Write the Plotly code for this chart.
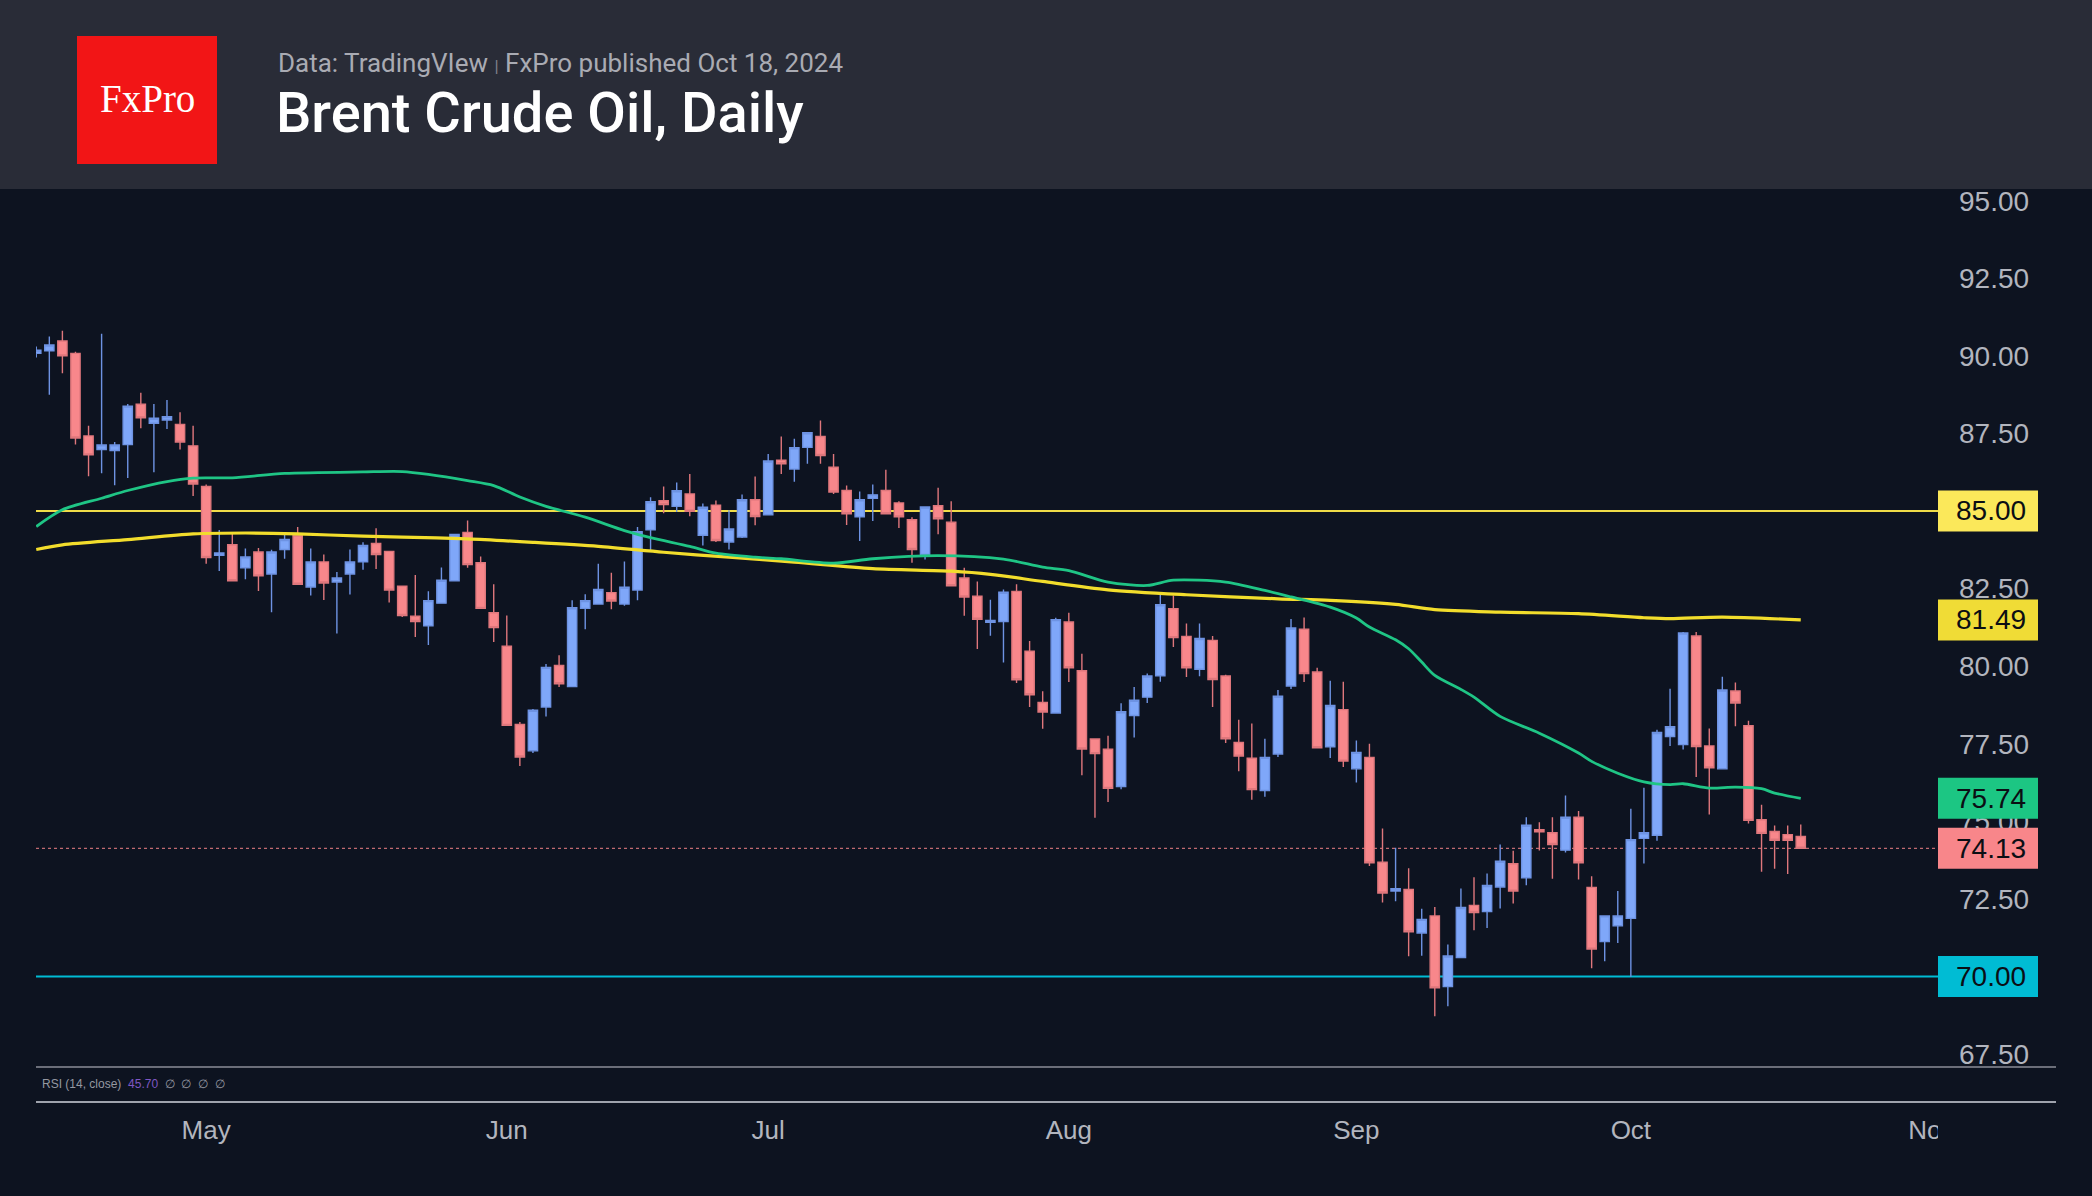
import pandas as pd
import plotly.graph_objects as go

# ---------------- data ----------------
dates = pd.bdate_range("2024-04-12", "2024-10-18")

opens = [90.08, 90.16, 90.48, 90.08, 87.42, 86.98, 86.95, 87.14, 88.44, 87.83,
         87.93, 87.79, 87.10, 85.79, 83.57, 83.91, 83.17, 83.68, 82.97, 83.76,
         84.20, 82.55, 83.36, 82.71, 82.97, 83.36, 83.95, 83.70, 82.58, 81.61,
         81.30, 82.03, 82.75, 84.31, 83.33, 81.72, 80.64, 78.12, 77.27, 78.68,
         80.02, 79.34, 81.86, 82.00, 82.37, 82.00, 82.45, 84.39, 85.33, 85.15,
         85.55, 84.22, 85.19, 84.00, 84.16, 85.36, 84.88, 86.64, 86.35, 87.05,
         87.40, 86.41, 85.66, 84.81, 85.41, 85.66, 85.26, 84.72, 83.60, 85.17,
         84.64, 82.84, 82.25, 81.41, 81.44, 82.41, 80.48, 78.83, 78.49, 81.42,
         79.85, 77.65, 77.32, 76.12, 78.41, 79.00, 79.69, 81.85, 80.96, 79.90,
         80.83, 79.68, 77.54, 77.03, 75.99, 77.17, 79.36, 81.19, 79.81, 77.40,
         78.60, 76.69, 77.06, 73.68, 72.75, 72.80, 71.40, 71.95, 69.67, 70.61,
         72.29, 72.09, 72.88, 73.63, 73.18, 74.73, 74.63, 74.07, 75.13, 72.87,
         71.12, 71.63, 71.87, 74.45, 74.55, 77.73, 77.47, 80.97, 77.43, 76.69,
         79.20, 78.08, 75.05, 74.67, 74.57, 74.51]
highs = [90.30, 90.62, 90.81, 90.13, 87.75, 90.71, 87.22, 88.45, 88.81, 88.45,
         88.58, 88.18, 87.75, 85.85, 84.39, 84.32, 83.79, 83.81, 83.75, 84.26,
         84.48, 83.79, 83.60, 83.03, 83.76, 83.99, 84.44, 83.70, 82.58, 82.94,
         82.41, 83.18, 84.27, 84.69, 83.53, 82.64, 81.63, 78.20, 78.62, 80.07,
         80.35, 82.12, 82.32, 83.30, 83.01, 83.37, 84.48, 85.44, 85.79, 85.92,
         86.19, 85.24, 85.34, 85.02, 85.53, 86.11, 86.84, 87.40, 87.33, 87.52,
         87.92, 86.84, 85.82, 85.63, 85.85, 86.33, 85.31, 84.80, 85.13, 85.75,
         85.31, 83.17, 82.73, 82.14, 82.47, 82.64, 80.81, 79.19, 81.56, 81.72,
         80.40, 77.65, 77.76, 78.80, 79.33, 79.76, 82.33, 82.28, 81.37, 81.37,
         80.97, 79.72, 78.27, 78.15, 77.66, 79.23, 81.52, 81.57, 79.95, 79.53,
         79.50, 77.60, 77.50, 74.77, 74.15, 73.49, 72.18, 72.24, 71.03, 72.83,
         73.20, 73.32, 74.25, 74.05, 75.13, 74.97, 75.13, 75.83, 75.33, 73.23,
         71.95, 72.75, 75.40, 76.08, 77.95, 79.27, 81.10, 81.10, 77.99, 79.66,
         79.47, 78.24, 75.53, 74.86, 74.86, 74.90]
lows = [89.95, 88.75, 89.44, 87.14, 86.12, 86.22, 85.83, 86.06, 87.67, 86.25,
        87.64, 86.98, 85.48, 83.30, 83.07, 82.74, 82.80, 82.42, 81.74, 83.46,
        82.63, 82.28, 82.13, 81.05, 82.31, 83.11, 83.13, 82.05, 81.58, 80.94,
        80.68, 82.02, 82.74, 83.17, 81.85, 80.78, 78.08, 76.78, 77.20, 78.38,
        79.33, 79.33, 81.19, 81.99, 81.83, 81.95, 82.12, 83.71, 84.93, 84.97,
        84.83, 83.89, 84.00, 83.76, 84.13, 84.54, 84.87, 86.19, 85.94, 86.52,
        86.52, 85.55, 84.55, 84.03, 84.68, 84.90, 84.45, 83.33, 83.44, 84.25,
        82.58, 81.62, 80.55, 80.98, 80.12, 79.46, 78.68, 77.98, 78.48, 79.49,
        76.48, 75.11, 75.62, 76.03, 77.70, 78.81, 79.50, 80.62, 79.65, 79.67,
        78.68, 77.52, 76.61, 75.69, 75.79, 77.07, 79.26, 79.49, 77.36, 77.04,
        76.75, 76.25, 73.56, 72.38, 72.42, 70.65, 70.67, 68.72, 69.04, 70.60,
        71.49, 71.56, 72.19, 72.35, 72.94, 74.06, 73.15, 73.99, 73.12, 70.26,
        70.49, 71.08, 69.99, 73.64, 74.37, 77.43, 77.31, 76.43, 75.22, 76.68,
        78.06, 74.93, 73.37, 73.47, 73.30, 74.12]
closes = [90.18, 90.35, 90.00, 87.35, 86.81, 87.13, 87.13, 88.38, 88.00, 87.99,
          88.04, 87.22, 85.87, 83.50, 83.65, 82.75, 83.52, 82.91, 83.68, 84.08,
          82.64, 83.36, 82.68, 82.84, 83.36, 83.89, 83.60, 82.45, 81.63, 81.44,
          82.11, 82.77, 84.24, 83.27, 81.86, 81.24, 78.09, 77.07, 78.58, 79.96,
          79.43, 81.88, 82.11, 82.47, 82.10, 82.54, 84.33, 85.30, 85.21, 85.65,
          84.99, 85.12, 84.05, 84.42, 85.36, 84.82, 86.61, 86.52, 87.04, 87.52,
          86.79, 85.61, 84.91, 85.36, 85.52, 84.91, 84.81, 83.76, 85.13, 84.75,
          82.59, 82.23, 81.51, 81.47, 82.38, 79.56, 79.08, 78.52, 81.50, 79.95,
          77.33, 77.18, 76.06, 78.53, 78.90, 79.68, 81.98, 80.92, 79.95, 80.89,
          79.57, 77.66, 77.10, 76.02, 77.06, 79.03, 81.23, 79.76, 77.37, 78.73,
          76.94, 77.22, 73.66, 72.69, 72.83, 71.44, 71.84, 69.63, 70.66, 72.22,
          72.06, 72.93, 73.71, 72.75, 74.87, 74.66, 74.25, 75.13, 73.66, 70.88,
          71.95, 71.95, 74.41, 74.63, 77.86, 78.05, 81.07, 77.41, 76.72, 79.23,
          78.81, 75.03, 74.61, 74.39, 74.39, 74.13]

# moving averages, sampled along the drawn lines (bar index, value)
ma_fast_idx = [0, 2, 5, 7, 10, 12, 15, 19, 25, 28, 30, 33, 35, 37, 39, 42, 45, 47, 50, 52,
               55, 57, 61, 64, 69, 74, 77, 79, 82, 85, 87, 91, 94, 96, 99, 101, 102, 104,
               105, 106, 107, 109, 110, 112, 115, 118, 119, 121, 123, 125, 126, 128, 130,
               132, 133, 135]
ma_fast_val = [84.50, 85.04, 85.41, 85.66, 85.95, 86.06, 86.07, 86.21, 86.26, 86.27,
               86.18, 85.98, 85.82, 85.45, 85.15, 84.80, 84.37, 84.14, 83.86, 83.64,
               83.51, 83.46, 83.32, 83.46, 83.56, 83.45, 83.19, 83.08, 82.71, 82.60,
               82.77, 82.71, 82.44, 82.23, 81.90, 81.55, 81.26, 80.85, 80.56, 80.13,
               79.70, 79.25, 79.00, 78.38, 77.84, 77.20, 76.93, 76.55, 76.27, 76.18,
               76.21, 76.07, 76.10, 76.05, 75.91, 75.74]
ma_slow_idx = [0, 2, 7, 12, 16, 20, 25, 28, 33, 38, 43, 48, 53, 58, 64, 70, 73, 77, 82, 88,
               95, 99, 104, 107, 112, 118, 123, 125, 129, 135]
ma_slow_val = [83.76, 83.91, 84.08, 84.26, 84.29, 84.26, 84.19, 84.16, 84.10, 83.99,
               83.86, 83.67, 83.51, 83.35, 83.14, 83.06, 82.96, 82.73, 82.46, 82.30,
               82.17, 82.12, 81.99, 81.82, 81.74, 81.69, 81.56, 81.53, 81.58, 81.49]

level_lines = [85.00, 70.00]
price_ticks = [67.5, 70.0, 72.5, 75.0, 77.5, 80.0, 82.5, 85.0, 87.5, 90.0, 92.5, 95.0]

# ---------------- geometry / styles ----------------
W, H = 2092, 1196
L, R, T, B = 36, 1938, 189, 1067
BG = "#0d1320"
HEADER = "#292c37"
UP, UP_LINE = "#7fa7f9", "#6e93e3"
DN, DN_LINE = "#f8878b", "#df777c"
GREEN = "#1fc585"
YELLOW = "#f2dd2c"
CYAN = "#00bcd4"
AXIS_TXT = "#b2b5be"


def pxx(x):
    return (x - L) / (R - L)


def pxy(y):
    return (B - y) / (B - T)


x = list(range(len(dates)))

# month ticks at first trading day of each month (plus the next month start)
tick_idx, tick_txt = [], []
for i in range(1, len(dates)):
    if dates[i].month != dates[i - 1].month:
        tick_idx.append(i)
        tick_txt.append(dates[i].strftime("%b"))
nov_idx = len(pd.bdate_range(dates[0], "2024-10-31"))
tick_idx.append(nov_idx)
tick_txt.append("Nov")

y_lo, y_hi = 67.081, 95.377
px_per_unit = (B - T) / (y_hi - y_lo)

fig = go.Figure()

fig.add_trace(go.Scatter(x=ma_slow_idx, y=ma_slow_val, mode="lines",
                         line=dict(color=YELLOW, width=3.2, shape="spline", smoothing=0.8),
                         hoverinfo="skip", showlegend=False))
fig.add_trace(go.Scatter(x=ma_fast_idx, y=ma_fast_val, mode="lines",
                         line=dict(color=GREEN, width=2.8, shape="spline", smoothing=0.8),
                         hoverinfo="skip", showlegend=False))

fig.add_trace(go.Candlestick(
    x=x, open=opens, high=highs, low=lows, close=closes,
    increasing=dict(fillcolor=UP, line=dict(color=UP_LINE, width=1.4)),
    decreasing=dict(fillcolor=DN, line=dict(color=DN_LINE, width=1.4)),
    whiskerwidth=0, showlegend=False, hoverinfo="skip"))

shapes = []
# header band and logo
shapes.append(dict(type="rect", xref="paper", yref="paper", x0=pxx(0), x1=pxx(W),
                   y0=pxy(T), y1=pxy(0), fillcolor=HEADER, line=dict(width=0), layer="below"))
shapes.append(dict(type="rect", xref="paper", yref="paper", x0=pxx(77), x1=pxx(217),
                   y0=pxy(164), y1=pxy(36), fillcolor="#f21516", line=dict(width=0), layer="below"))

# horizontal levels
shapes.append(dict(type="line", xref="paper", yref="y", x0=0, x1=1, y0=level_lines[0], y1=level_lines[0],
                   line=dict(color="#f0dc48", width=1.8), layer="below"))
shapes.append(dict(type="line", xref="paper", yref="y", x0=0, x1=1, y0=level_lines[1], y1=level_lines[1],
                   line=dict(color=CYAN, width=2), layer="below"))
last = closes[-1]
shapes.append(dict(type="line", xref="paper", yref="y", x0=0, x1=1, y0=last, y1=last,
                   line=dict(color="#c06a70", width=1.2, dash="dot"), layer="below"))

# bottom separators (RSI strip)
shapes.append(dict(type="line", xref="paper", yref="paper", x0=0, x1=pxx(2056), y0=0, y1=0,
                   line=dict(color="#8b8e97", width=1.5), layer="above"))
shapes.append(dict(type="line", xref="paper", yref="paper", x0=0, x1=pxx(2056), y0=pxy(1102), y1=pxy(1102),
                   line=dict(color="#d1d4dc", width=1.5), layer="above"))
# clip month label at price-scale edge
shapes.append(dict(type="rect", xref="paper", yref="paper", x0=1, x1=pxx(W), y0=pxy(1150), y1=pxy(1106),
                   fillcolor=BG, line=dict(width=0), layer="above"))

annotations = []
# price labels on the right scale
labels = [(level_lines[0], "#fbe85a"), (ma_slow_val[-1], "#f0dc36"),
          (ma_fast_val[-1], "#1cc683"), (last, "#f8868a"), (level_lines[1], CYAN)]
half = 20.5 / px_per_unit
for v, col in labels:
    shapes.append(dict(type="rect", xref="paper", yref="y", x0=1, x1=1 + 100 / (R - L),
                       y0=v - half, y1=v + half, fillcolor=col, line=dict(width=0), layer="above"))
    annotations.append(dict(x=1, xref="paper", y=v, yref="y", xanchor="right", yanchor="middle",
                            xshift=90, text=f"{v:.2f}", showarrow=False,
                            font=dict(family="Liberation Sans", size=28, color="#0b0e14")))

# header texts
annotations.append(dict(x=pxx(147), y=pxy(99), xref="paper", yref="paper", xanchor="center",
                        yanchor="middle", text="FxPro", showarrow=False,
                        font=dict(family="Liberation Serif", size=39, color="#ffffff")))
annotations.append(dict(x=pxx(276), y=pxy(63), xref="paper", yref="paper", xanchor="left",
                        yanchor="middle",
                        text="Data: TradingVIew <span style='font-size:17px;color:#80838c'>|</span> FxPro published Oct 18, 2024",
                        showarrow=False,
                        font=dict(family="Roboto", size=26, color="#a9abb3")))
annotations.append(dict(x=pxx(274), y=pxy(113), xref="paper", yref="paper", xanchor="left",
                        yanchor="middle", text="Brent Crude Oil, Daily", showarrow=False,
                        font=dict(family="Roboto", size=56, color="#ffffff", weight=500)))
# RSI legend line
annotations.append(dict(x=pxx(40), y=pxy(1084), xref="paper", yref="paper", xanchor="left",
                        yanchor="middle", showarrow=False,
                        text="<span style='color:#9598a1'>RSI (14, close)</span>  "
                             "<span style='color:#7e57c2'>45.70</span>  "
                             "<span style='color:#9598a1'>∅  ∅  ∅  ∅</span>",
                        font=dict(family="Liberation Sans", size=12, color="#9598a1")))

fig.update_layout(
    width=W, height=H,
    margin=dict(l=L, r=W - R, t=T, b=H - B, pad=0),
    paper_bgcolor=BG, plot_bgcolor=BG,
    showlegend=False, hovermode=False,
    boxgap=0.29, boxgroupgap=0,
    shapes=shapes, annotations=annotations,
    xaxis=dict(range=[-0.02, 145.5], showgrid=False, zeroline=False, showline=False,
               rangeslider=dict(visible=False), fixedrange=True,
               tickmode="array", tickvals=tick_idx, ticktext=tick_txt, ticks="",
               ticklabelstandoff=45,
               tickfont=dict(family="Liberation Sans", size=26, color=AXIS_TXT)),
    yaxis=dict(range=[y_lo, y_hi], side="right", showgrid=False, zeroline=False,
               showline=False, fixedrange=True, tickmode="array", tickvals=price_ticks,
               ticktext=[f"{t:.2f}" for t in price_ticks], ticks="", ticklabelstandoff=20,
               tickfont=dict(family="Liberation Sans", size=28, color=AXIS_TXT)),
)

fig.write_html(
    "out.html",
    config={"displayModeBar": False},
    post_script="document.body.style.margin='0';document.body.style.background='" + BG + "';",
)
